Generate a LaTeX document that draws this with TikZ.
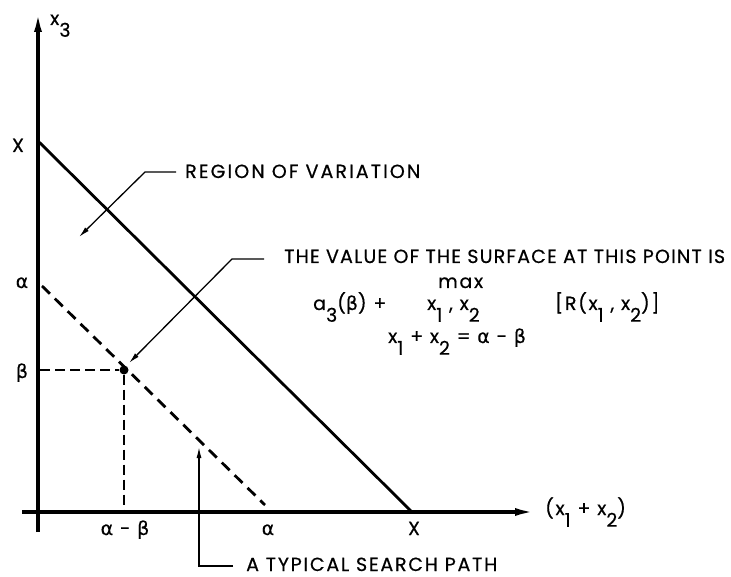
\documentclass[tikz,border=0pt]{standalone}
\usepackage{fontspec}
\setmainfont{Poppins}[FakeBold=0.5]
\newfontfamily\gk{DejaVu Sans}[FakeBold=0.3]
\usetikzlibrary{arrows.meta}
\newcommand\lo[1]{\raisebox{-0.62em}{#1}}
\newcommand\al{{\gk α}}
\newcommand\be{{\gk β}}
\newcommand\lsp[1]{\addfontfeature{LetterSpace=#1}}
\begin{document}
\begin{tikzpicture}[x=1pt,y=-1pt,
  lbl/.style={font=\fontsize{19}{21}\selectfont\lsp{9}, inner sep=0pt},
  axisline/.style={line width=3.2pt},
  bound/.style={line width=2.8pt},
  path dash/.style={line width=2.8pt, dash pattern=on 11pt off 7pt},
  thin dash/.style={line width=1.6pt, dash pattern=on 10pt off 5pt},
  leader/.style={line width=1.3pt, -{Latex[length=11pt,width=5pt]}},
  bigtip/.style={-{Latex[length=20pt,width=8pt]}}]
\useasboundingbox (0,0) rectangle (731,577);
% coordinates
\coordinate (ybot) at (38,532);
\coordinate (ytop) at (38,12);
\coordinate (xl) at (22,512);
\coordinate (xt) at (535,512);
\coordinate (Xy) at (38,141);
\coordinate (Xx) at (412,512);
\coordinate (a1) at (42,286);
\coordinate (a2) at (265,505);
\coordinate (by) at (40,370);
\coordinate (bx) at (124,512);
\node[circle, fill=black, inner sep=0pt, minimum size=9pt] (P) at (124,370) {};
% axes
\draw[axisline, bigtip] (ybot) -- (ytop);
\draw[axisline, bigtip] (xl) -- (xt);
% region boundary
\draw[bound] (Xy) -- (Xx);
% search path
\draw[path dash] (a1) -- (a2);
\draw[thin dash, line width=2pt] (by) -- (P);
\draw[thin dash, line width=1.4pt] (P) -- (bx);
% axis labels
\node[lbl, anchor=base west] (x3) at (50,25) {x\lo{3}};
\node[lbl, anchor=base west] (xsum) at (545,515) {(x\lo{1} + x\lo{2})};
\node[lbl, anchor=base] (lX1) at (18,152) {X};
\node[lbl, anchor=base] (la1) at (22,288) {\al};
\node[lbl, anchor=base] (lb1) at (22,378) {\be};
\node[lbl, anchor=base] (lab) at (125,535) {\al\ - \be};
\node[lbl, anchor=base] (la2) at (268,535) {\al};
\node[lbl, anchor=base] (lX2) at (414,535) {X};
% annotation texts
\node[lbl, anchor=base west] (reg) at (185,178) {\lsp{11}REGION OF VARIATION};
\node[lbl, anchor=base west] (val) at (284,263) {\lsp{6.3}THE VALUE OF THE SURFACE AT THIS POINT IS};
\node[lbl, anchor=base west] (f1) at (313,310) {a\lo{3}(\be) +};
\node[lbl, anchor=base west] (fmax) at (438,288) {max};
\node[lbl, anchor=base west] (f2) at (427,310) {x\lo{1} , x\lo{2}};
\node[lbl, anchor=base west] (f3) at (555,310) {[R(x\lo{1} , x\lo{2})]};
\node[lbl, anchor=base west] (f4) at (388,343) {x\lo{1} + x\lo{2} = \al\ - \be};
\node[lbl, anchor=base west] (typ) at (246,571) {\lsp{9.3}A TYPICAL SEARCH PATH};
% leaders
\coordinate (r1) at (176,172);
\coordinate (r2) at (145,172);
\coordinate (r3) at (79,237);
\draw[leader] (r1) -- (r2) -- (r3);
\coordinate (v1) at (264,259);
\coordinate (v2) at (232,259);
\coordinate (v3) at (129,363);
\draw[leader] (v1) -- (v2) -- (v3);
\coordinate (t1) at (233,566);
\coordinate (t2) at (199,566);
\coordinate (t3) at (199,447);
\draw[leader] (t1) -- (t2) -- (t3);
\end{tikzpicture}
\end{document}
